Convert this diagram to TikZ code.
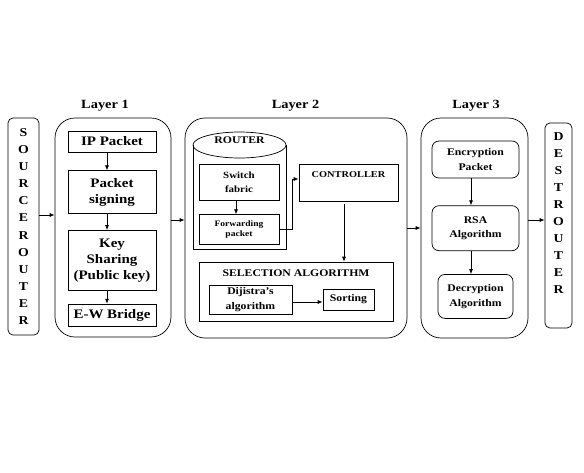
\documentclass[tikz,border=0pt]{standalone}
\usepackage{fontspec}
\setmainfont{Liberation Serif}[FakeStretch=1.15]
\usetikzlibrary{positioning, arrows.meta}
\tikzset {
    >={Latex[length=5pt, width=4pt]},
    every node/.style={font=\bfseries, align=center, inner sep=1pt},
    box/.style={draw, line width=0.7pt},
    rbox/.style={box, rounded corners=7pt},
    layer/.style={box, rounded corners=20pt},
    column/.style={box, rounded corners=5pt, font=\bfseries\fontsize{12}{17.1}\selectfont},
    letters/.style={font=\bfseries\fontsize{12}{17}\selectfont},
    title/.style={font=\bfseries\fontsize{12.5}{14}\selectfont},
    lbig/.style={font=\bfseries\fontsize{13}{16.2}\selectfont},
    lmid/.style={font=\bfseries\fontsize{10.2}{14.5}\selectfont},
    lsmall/.style={font=\bfseries\fontsize{9.5}{14}\selectfont},
    ltiny/.style={font=\bfseries\fontsize{8.3}{10.5}\selectfont},
    lctrl/.style={font=\bfseries\fontsize{9}{11}\selectfont},
    link/.style={->, line width=0.7pt}
}

\begin{document}
\begin{tikzpicture}[x=1pt, y=-1pt]
\useasboundingbox (0,0) rectangle (584,472);

% source and destination
\node[column, minimum width=31pt, minimum height=217pt] (src) at (23.5,226.5) {S\\O\\U\\R\\C\\E\\R\\O\\U\\T\\E\\R};
\node[column, minimum width=27pt, minimum height=205pt] (dst) at (558.5,225.5) {};
\node[letters] (dstname) at (558.5,213.5) {D\\E\\S\\T\\R\\O\\U\\T\\E\\R};

% layers
\node[layer, minimum width=116pt, minimum height=219pt] (l1) at (113,227.5) {};
\node[layer, minimum width=222pt, minimum height=220pt] (l2) at (296,228) {};
\node[layer, minimum width=107pt, minimum height=220pt] (l3) at (474.5,228) {};
\node[title] (t1) at (105,106) {Layer 1};
\node[title] (t2) at (295.5,106) {Layer 2};
\node[title] (t3) at (476,106) {Layer 3};

% layer 1
\node[box, lbig, minimum width=88pt, minimum height=21pt] (ip) at (112,141.5) {IP Packet};
\node[box, lbig, minimum width=88pt, minimum height=43pt, below=18pt of ip] (sign) {Packet\\signing};
\node[box, lbig, minimum width=88pt, minimum height=60pt, below=16pt of sign] (key) {Key\\Sharing\\(Public key)};
\node[box, lbig, minimum width=88pt, minimum height=22pt, below=13pt of key] (ew) {E-W Bridge};

% layer 2
\draw[box] (193,145) -- (193,249) -- (286,249) -- (286,145);
\draw[box] (239.5,145) ellipse [x radius=46.5pt, y radius=13pt];
\node[lmid] (router) at (239.5,140) {ROUTER};
\node[box, lsmall, minimum width=80pt, minimum height=36pt] (sw) at (239,182) {Switch\\fabric};
\node[box, ltiny, minimum width=80pt, minimum height=30pt, below=14pt of sw] (fwd) {Forwarding\\packet};
\node[box, minimum width=99pt, minimum height=37pt, label={[lctrl, anchor=north, yshift=-7pt]north:CONTROLLER}] (ctrl) at (348.5,182.5) {};
\node[box, minimum width=194pt, minimum height=59pt, label={[lmid, anchor=north, yshift=-7pt]north:SELECTION ALGORITHM}] (sel) at (296,291.5) {};
\node[box, lmid, minimum width=83pt, minimum height=29pt] (dij) at (250.5,299.5) {Dijistra’s\\algorithm};
\node[box, lmid, minimum width=51pt, minimum height=21pt] (sort) at (348.5,299.5) {Sorting};

% layer 3
\node[rbox, lmid, minimum width=87pt, minimum height=37pt] (enc) at (475.5,159.5) {Encryption\\Packet};
\node[rbox, lmid, minimum width=87pt, minimum height=45pt, below=27pt of enc] (rsa) {RSA\\Algorithm};
\node[rbox, lmid, minimum width=75pt, minimum height=44pt, below=23pt of rsa] (dec) {Decryption\\Algorithm};

% connectors
\draw[link] ([yshift=11.5pt]src.east) -- ([yshift=11.5pt]src.east -| l1.west);
\draw[link] ([yshift=7.5pt]l1.east) -- ([yshift=7.5pt]l1.east -| l2.west);
\draw[link] (l2.east) -- (l3.west);
\draw[link] ([yshift=8pt]l3.east) -- ([yshift=8pt]l3.east -| dst.west);

\draw[link] ([xshift=-5pt]ip.south) -- ([xshift=-5pt]sign.north);
\draw[link] ([xshift=-5pt]sign.south) -- ([xshift=-5pt]key.north);
\draw[link] ([xshift=-5pt]key.south) -- ([xshift=-5pt]ew.north);

\draw[link] ([xshift=-3pt]sw.south) -- ([xshift=-3pt]fwd.north);
\draw[link] (fwd.east) -- ++(13pt,0pt) |- ([yshift=3.5pt]ctrl.west);
\draw[link] ([xshift=-4.5pt,yshift=-3pt]ctrl.south) -- ([xshift=-4.5pt]ctrl.south |- sel.north);
\draw[link] ([yshift=-2.5pt]dij.east) -- ([yshift=-2.5pt]dij.east -| sort.west);

\draw[link] ([xshift=-4.5pt]enc.south) -- ([xshift=-4.5pt]rsa.north);
\draw[link] ([xshift=-4.5pt]rsa.south) -- ([xshift=-4.5pt]rsa.south |- dec.north);
\end{tikzpicture}
\end{document}
